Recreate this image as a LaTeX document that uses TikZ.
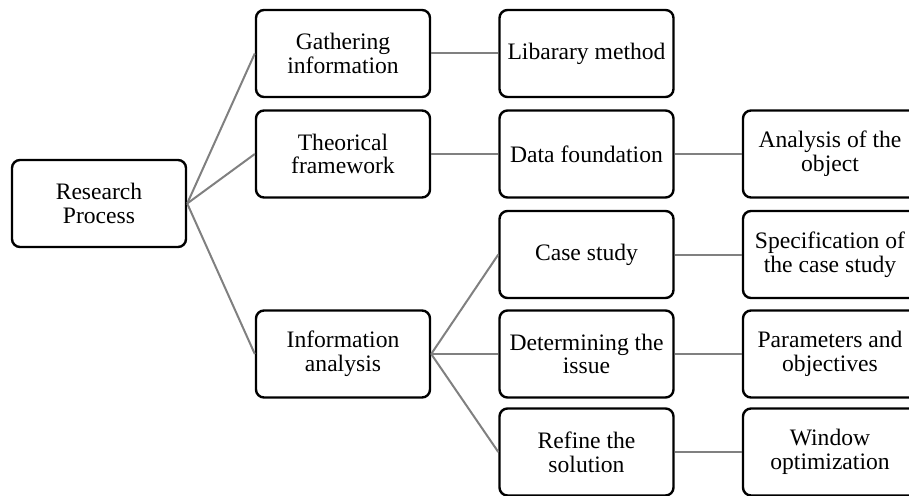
\documentclass[tikz,border=0pt]{standalone}
\usepackage{fontspec}
\setmainfont{Liberation Serif}
\begin{document}
\begin{tikzpicture}[x=1pt,y=-1pt,
  box/.style={draw=black, line width=2.4pt, rounded corners=8pt, fill=white,
    minimum width=174pt, minimum height=87pt, align=center, inner sep=2pt,
    font=\fontsize{23.6pt}{23.8pt}\selectfont},
  link/.style={draw=black!50, line width=2pt}]
\useasboundingbox (0,0) rectangle (909,495);
\clip (0,0) rectangle (909,495);
\node[box] (rp) at (99,203.5) {Research\\Process};
\node[box] (gi) at (343,53.5) {Gathering\\information};
\node[box] (tf) at (343,154) {Theorical\\framework};
\node[box] (ia) at (343,354) {Information\\analysis};
\node[box] (lm) at (586.5,53.5) {Libarary method};
\node[box] (df) at (586.5,154) {Data foundation};
\node[box] (cs) at (586.5,254.5) {Case study};
\node[box] (di) at (586.5,354) {Determining the\\issue};
\node[box] (rs) at (586.5,452) {Refine the\\solution};
\node[box] (ao) at (830,154) {Analysis of the\\object};
\node[box] (sc) at (830,254.5) {Specification of\\the case study};
\node[box] (po) at (830,354) {Parameters and\\objectives};
\node[box] (wo) at (830,452) {Window\\optimization};
\draw[link] (rp.east) -- (gi.west);
\draw[link] (rp.east) -- (tf.west);
\draw[link] (rp.east) -- (ia.west);
\draw[link] (gi.east) -- (lm.west);
\draw[link] (tf.east) -- (df.west);
\draw[link] (df.east) -- (ao.west);
\draw[link] (ia.east) -- (cs.west);
\draw[link] (ia.east) -- (di.west);
\draw[link] (ia.east) -- (rs.west);
\draw[link] (cs.east) -- (sc.west);
\draw[link] (di.east) -- (po.west);
\draw[link] (rs.east) -- (wo.west);
\end{tikzpicture}
\end{document}
